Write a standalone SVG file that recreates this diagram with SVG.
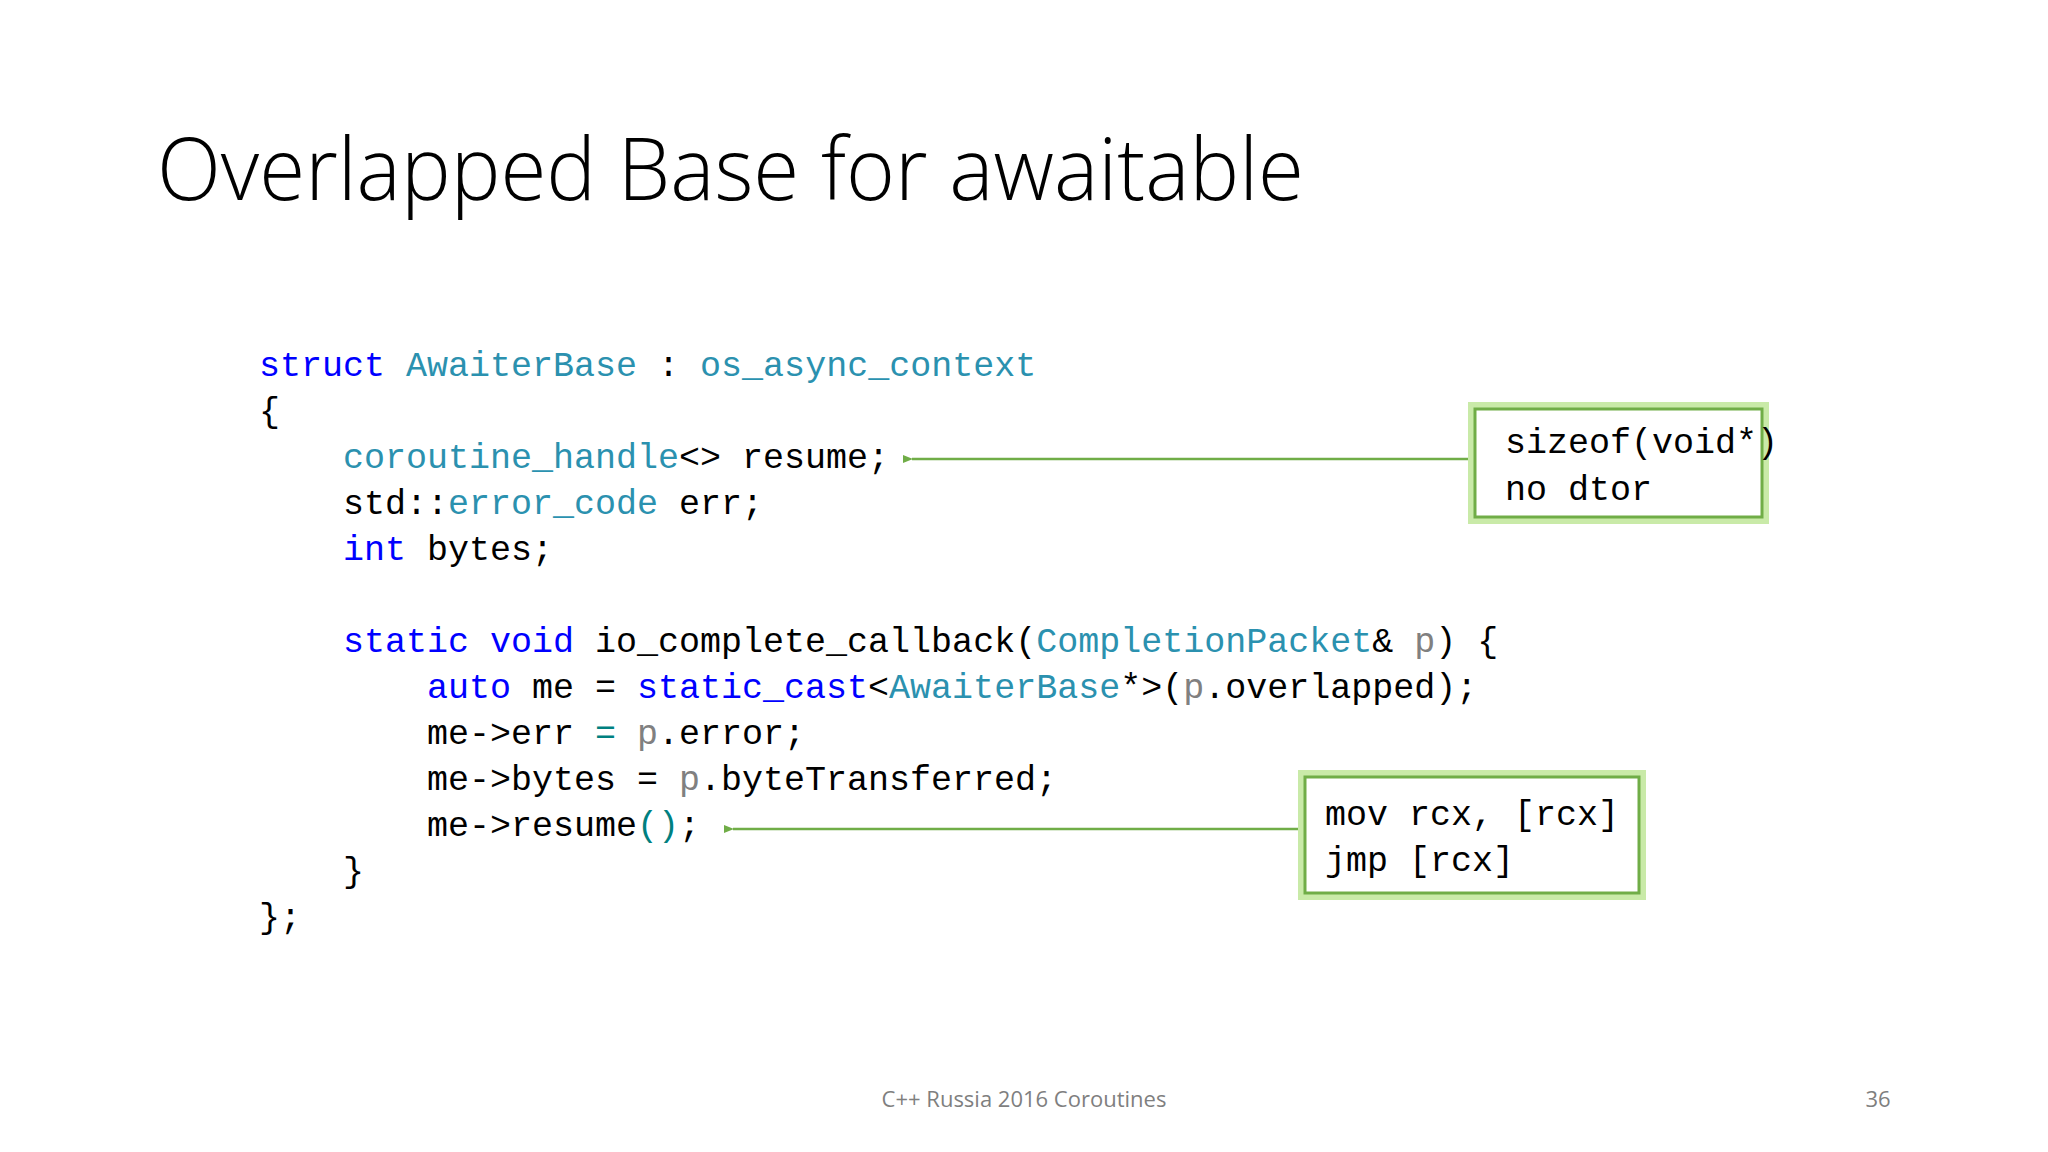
<svg xmlns="http://www.w3.org/2000/svg" width="2048" height="1152" viewBox="0 0 2048 1152">
<defs>
<style>
.code{font-family:"Liberation Mono",monospace;font-size:35px;fill:#000;white-space:pre}
.k{fill:#0000FF}.t{fill:#2B91AF}.p{fill:#808080}.c{fill:#008080}
.box{fill:#fff;stroke:#70AD47;stroke-width:3}
.glow{fill:none;stroke:#C9EAA8;stroke-width:14}
.conn{stroke:#70AD47;stroke-width:2.5;fill:none}
</style>
<marker id="ah" markerWidth="10" markerHeight="8" refX="1" refY="4" orient="auto" markerUnits="userSpaceOnUse">
<path d="M10,0 L0,4 L10,8 z" fill="#70AD47"/>
</marker>
</defs>
<rect width="2048" height="1152" fill="#fff"/>
<text x="157" y="200" font-family="'Open Sans',sans-serif" font-weight="300" font-size="86" textLength="1147" lengthAdjust="spacingAndGlyphs" fill="#000">Overlapped Base for awaitable</text>
<g id="code" class="code" xml:space="preserve">
<text x="259" y="376"><tspan class="k">struct</tspan> <tspan class="t">AwaiterBase</tspan> : <tspan class="t">os_async_context</tspan></text>
<text x="259" y="422">{</text>
<text x="343" y="468"><tspan class="t">coroutine_handle</tspan>&lt;&gt; resume;</text>
<text x="343" y="514">std::<tspan class="t">error_code</tspan> err;</text>
<text x="343" y="560"><tspan class="k">int</tspan> bytes;</text>
<text x="343" y="652"><tspan class="k">static</tspan> <tspan class="k">void</tspan> io_complete_callback(<tspan class="t">CompletionPacket</tspan>&amp; <tspan class="p">p</tspan>) {</text>
<text x="427" y="698"><tspan class="k">auto</tspan> me = <tspan class="k">static_cast</tspan>&lt;<tspan class="t">AwaiterBase</tspan>*&gt;(<tspan class="p">p</tspan>.overlapped);</text>
<text x="427" y="744">me-&gt;err <tspan class="c">=</tspan> <tspan class="p">p</tspan>.error;</text>
<text x="427" y="790">me-&gt;bytes = <tspan class="p">p</tspan>.byteTransferred;</text>
<text x="427" y="836">me-&gt;resume<tspan class="c">()</tspan>;</text>
<text x="343" y="882">}</text>
<text x="259" y="928">};</text>
</g>
<g id="connectors">
<line class="conn" x1="1475" y1="459" x2="912" y2="459" marker-end="url(#ah)"/>
<line class="conn" x1="1303" y1="829" x2="733" y2="829" marker-end="url(#ah)"/>
</g>
<g id="note1">
<rect class="glow" x="1475" y="409" width="287" height="108"/>
<rect class="box" x="1475" y="409" width="287" height="108"/>
<text class="code" x="1505" y="453">sizeof(void*)</text>
<text class="code" x="1505" y="500">no dtor</text>
</g>
<g id="note2">
<rect class="glow" x="1305" y="777" width="334" height="116"/>
<rect class="box" x="1305" y="777" width="334" height="116"/>
<text class="code" x="1325" y="825" xml:space="preserve">mov rcx, [rcx]</text>
<text class="code" x="1325" y="871" xml:space="preserve">jmp [rcx]</text>
</g>
<text x="1024" y="1107" text-anchor="middle" font-family="'Open Sans',sans-serif" font-size="22" fill="#7F7F7F">C++ Russia 2016 Coroutines</text>
<text x="1878" y="1107" text-anchor="middle" font-family="'Open Sans',sans-serif" font-size="22" fill="#7F7F7F">36</text>
</svg>
